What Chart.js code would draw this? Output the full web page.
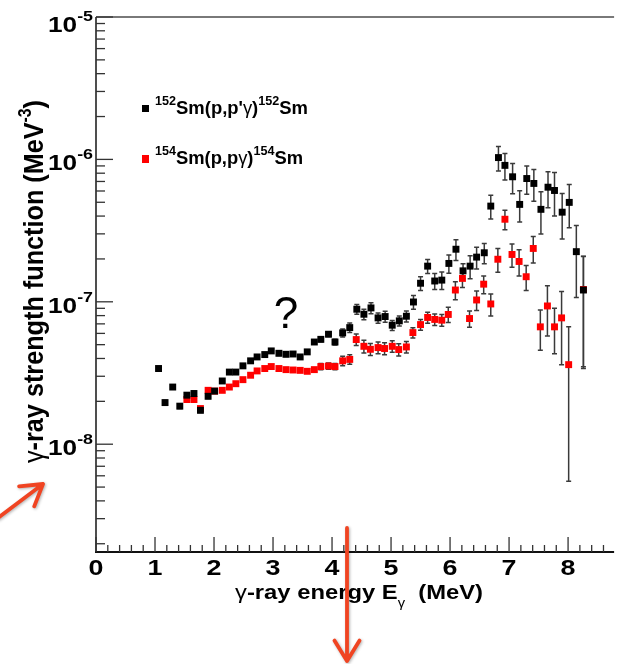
<!DOCTYPE html>
<html>
<head>
<meta charset="utf-8">
<script src="https://cdn.jsdelivr.net/npm/chart.js@4.4.1/dist/chart.umd.min.js"></script>
<style>
  html, body { margin: 0; padding: 0; background: #fff; }
  #wrap { width: 619px; height: 664px; }
</style>
</head>
<body>
<div id="wrap"><canvas id="gsf" width="619" height="664"></canvas></div>
<script>
// 152Sm(p,p'g)152Sm
const energy152 = [1.06, 1.17, 1.30, 1.42, 1.54, 1.66, 1.77, 1.90, 2.01, 2.14, 2.26, 2.37, 2.49, 2.62, 2.73, 2.86, 2.97, 3.10, 3.22, 3.34, 3.46, 3.58, 3.70, 3.81, 3.94, 4.05,
    4.18, 4.30, 4.42, 4.54, 4.66, 4.78, 4.90, 5.02, 5.14, 5.26, 5.38, 5.50, 5.62, 5.74, 5.86, 5.98, 6.10, 6.22, 6.34, 6.45,
    6.58, 6.69, 6.82, 6.93, 7.06, 7.18, 7.30, 7.42, 7.54, 7.66, 7.77, 7.90, 8.02, 8.14, 8.26];
const strength152 = [3.40e-8, 1.96e-8, 2.52e-8, 1.85e-8, 2.21e-8, 2.27e-8, 1.73e-8, 2.17e-8, 2.36e-8, 2.78e-8, 3.21e-8, 3.21e-8, 3.55e-8, 3.85e-8, 4.10e-8, 4.26e-8, 4.52e-8, 4.35e-8, 4.28e-8, 4.30e-8, 4.10e-8, 4.45e-8, 5.22e-8, 5.45e-8, 5.92e-8, 5.22e-8,
    6.05e-8, 6.59e-8, 8.87e-8, 8.18e-8, 9.06e-8, 7.71e-8, 7.88e-8, 6.85e-8, 7.35e-8, 7.92e-8, 9.97e-8, 1.35e-7, 1.78e-7, 1.40e-7, 1.42e-7, 1.86e-7, 2.34e-7, 1.65e-7, 1.78e-7, 2.06e-7,
    2.21e-7, 4.70e-7, 1.03e-6, 9.08e-7, 7.55e-7, 4.83e-7, 7.34e-7, 6.78e-7, 4.46e-7, 6.38e-7, 6.05e-7, 4.26e-7, 4.99e-7, 2.25e-7, 1.21e-7];
const error152 = [1.2e-9, 7e-10, 9e-10, 7e-10, 8e-10, 8e-10, 6e-10, 8e-10, 8e-10, 1.0e-9, 1.1e-9, 1.1e-9, 1.2e-9, 1.3e-9, 1.4e-9, 1.5e-9, 1.6e-9, 1.5e-9, 1.5e-9, 1.5e-9, 1.4e-9, 1.6e-9, 1.9e-9, 2.0e-9, 2.2e-9, 2.4e-9,
    4e-9, 5e-9, 7e-9, 7e-9, 8e-9, 6.5e-9, 7e-9, 5.5e-9, 6e-9, 7e-9, 1.1e-8, 1.5e-8, 2e-8, 1.8e-8, 2e-8, 2.7e-8, 3.9e-8, 2e-8, 3.3e-8, 3.6e-8,
    3.6e-8, 8.9e-8, 2.0e-7, 1.9e-7, 1.8e-7, 1.2e-7, 1.65e-7, 1.7e-7, 1.47e-7, 1.8e-7, 2.05e-7, 1.5e-7, 1.68e-7, 1.18e-7, 8.7e-8];

// 154Sm(p,pg)154Sm
const energy154 = [1.54, 1.66, 1.77, 1.90, 2.01, 2.14, 2.26, 2.37, 2.49, 2.62, 2.73, 2.86, 2.97, 3.10, 3.22, 3.34, 3.46, 3.58, 3.70, 3.81,
    3.94, 4.05, 4.18, 4.30, 4.41, 4.54, 4.65, 4.78, 4.89, 5.02, 5.13, 5.26, 5.37, 5.50, 5.62, 5.74, 5.86, 5.97, 6.09, 6.21,
    6.33, 6.45, 6.57, 6.69, 6.81, 6.93, 7.05, 7.17, 7.29, 7.41, 7.53, 7.65, 7.77, 7.89, 8.01, 8.26];
const strength154 = [2.06e-8, 2.06e-8, 1.78e-8, 2.39e-8, 2.36e-8, 2.39e-8, 2.52e-8, 2.66e-8, 2.84e-8, 3.05e-8, 3.27e-8, 3.40e-8, 3.51e-8, 3.40e-8, 3.34e-8, 3.32e-8, 3.30e-8, 3.25e-8, 3.34e-8, 3.51e-8,
    3.54e-8, 3.51e-8, 3.85e-8, 3.94e-8, 5.43e-8, 4.87e-8, 4.64e-8, 4.77e-8, 4.70e-8, 4.87e-8, 4.62e-8, 4.82e-8, 6.08e-8, 6.92e-8, 7.76e-8, 7.52e-8, 7.43e-8, 8.15e-8, 1.21e-7, 1.46e-7,
    7.63e-8, 1.03e-7, 1.33e-7, 9.66e-8, 1.99e-7, 3.80e-7, 2.15e-7, 1.92e-7, 1.50e-7, 2.37e-7, 6.67e-8, 9.35e-8, 6.67e-8, 7.71e-8, 3.62e-8, 1.22e-7];
const error154 = [6e-10, 6e-10, 5e-10, 7e-10, 7e-10, 7e-10, 8e-10, 8e-10, 9e-10, 9e-10, 1.0e-9, 1.0e-9, 1.1e-9, 1.0e-9, 1.0e-9, 1.0e-9, 1.0e-9, 1.0e-9, 1.0e-9, 1.8e-9,
    1.8e-9, 1.8e-9, 3e-9, 3e-9, 5e-9, 5e-9, 4.5e-9, 4.5e-9, 4.5e-9, 4.5e-9, 4.5e-9, 4.5e-9, 5e-9, 6e-9, 7e-9, 7e-9, 7e-9, 1e-8, 1.75e-8, 2e-8,
    1e-8, 1.6e-8, 1.9e-8, 1.7e-8, 3.8e-8, 6e-8, 4e-8, 4e-8, 3e-8, 5e-8, 2.1e-8, 3.6e-8, 2.35e-8, 4.1e-8, 3.07e-8, 8.7e-8];

const xTicks = [0, 1, 2, 3, 4, 5, 6, 7, 8];
const yDecades = [-5, -6, -7, -8];

const FONT = "'Liberation Sans', Arial, Helvetica, sans-serif";

function setFont(ctx, size, bold) {
    ctx.font = (bold ? 'bold ' : '') + size + 'px ' + FONT;
}

function partsWidth(ctx, parts) {
    let w = 0;
    parts.forEach((p) => {
        setFont(ctx, p.size, p.bold !== false);
        w += ctx.measureText(p.t).width;
    });
    return w;
}

function drawParts(ctx, parts) {
    let x = 0;
    parts.forEach((p) => {
        setFont(ctx, p.size, p.bold !== false);
        ctx.fillText(p.t, x, p.dy || 0);
        x += ctx.measureText(p.t).width;
    });
}

// draw text pieces squeezed/stretched to span x0..x1
function drawFit(ctx, parts, x0, x1, baseline, color) {
    const w = partsWidth(ctx, parts);
    ctx.save();
    ctx.translate(x0, baseline);
    ctx.scale((x1 - x0) / w, 1);
    ctx.fillStyle = color || '#000';
    ctx.textAlign = 'left';
    ctx.textBaseline = 'alphabetic';
    drawParts(ctx, parts);
    ctx.restore();
}

function arrow(ctx, x0, y0, x1, y1, head) {
    const a = Math.atan2(y1 - y0, x1 - x0);
    ctx.beginPath();
    ctx.moveTo(x0, y0);
    ctx.lineTo(x1, y1);
    ctx.moveTo(x1 - head * Math.cos(a - 0.55), y1 - head * Math.sin(a - 0.55));
    ctx.lineTo(x1, y1);
    ctx.lineTo(x1 - head * Math.cos(a + 0.55), y1 - head * Math.sin(a + 0.55));
    ctx.stroke();
}

const errorBars = {
    id: 'errorBars',
    beforeDatasetsDraw(chart) {
        const ctx = chart.ctx;
        const y = chart.scales.y;
        const errs = [error152, error154];
        ctx.save();
        ctx.strokeStyle = '#3a3a3a';
        ctx.lineWidth = 1.5;
        chart.data.datasets.forEach((ds, d) => {
            const meta = chart.getDatasetMeta(d);
            meta.data.forEach((pt, i) => {
                const v = ds.data[i].y;
                const e = errs[d][i];
                const top = y.getPixelForValue(v + e);
                const bot = v - e > 0 ? y.getPixelForValue(v - e) : y.bottom;
                ctx.beginPath();
                ctx.moveTo(pt.x, top);
                ctx.lineTo(pt.x, bot);
                ctx.moveTo(pt.x - 2.5, top);
                ctx.lineTo(pt.x + 2.5, top);
                ctx.moveTo(pt.x - 2.5, bot);
                ctx.lineTo(pt.x + 2.5, bot);
                ctx.stroke();
            });
        });
        ctx.restore();
    },
};

const frame = {
    id: 'frame',
    afterDraw(chart) {
        const ctx = chart.ctx;
        const xs = chart.scales.x;
        const ys = chart.scales.y;
        const a = chart.chartArea;
        ctx.save();

        // frame lines
        ctx.lineCap = 'butt';
        ctx.strokeStyle = '#4d4d4d';
        ctx.lineWidth = 1.6;
        ctx.beginPath();
        ctx.moveTo(a.left, a.top);
        ctx.lineTo(a.right, a.top);
        ctx.stroke();
        ctx.strokeStyle = '#222';
        ctx.beginPath();
        ctx.moveTo(a.left, a.top);
        ctx.lineTo(a.left, a.bottom);
        ctx.stroke();
        ctx.strokeStyle = '#111';
        ctx.lineWidth = 2;
        ctx.beginPath();
        ctx.moveTo(a.left - 1, a.bottom);
        ctx.lineTo(a.right, a.bottom);
        ctx.stroke();

        // x ticks, inside
        ctx.strokeStyle = '#333';
        ctx.lineWidth = 1.3;
        for (let k = 0; k <= Math.floor(xs.max * 5); k++) {
            const v = k / 5;
            const px = xs.getPixelForValue(v);
            const len = k % 5 === 0 ? 15 : 7;
            ctx.beginPath();
            ctx.moveTo(px, a.bottom);
            ctx.lineTo(px, a.bottom - len);
            ctx.stroke();
        }
        // y ticks, inside
        for (let e = -9; e <= -5; e++) {
            for (let m = 1; m <= 9; m++) {
                const v = m * Math.pow(10, e);
                if (v < ys.min || v > ys.max * 1.0001) continue;
                const py = ys.getPixelForValue(v);
                const len = m === 1 ? 17 : 9;
                ctx.beginPath();
                ctx.moveTo(a.left, py);
                ctx.lineTo(a.left + len, py);
                ctx.stroke();
            }
        }

        // x tick labels
        ctx.fillStyle = '#000';
        xTicks.forEach((t) => {
            const px = xs.getPixelForValue(t);
            ctx.save();
            ctx.translate(px, 575);
            ctx.scale(1.22, 1);
            setFont(ctx, 22, true);
            ctx.textAlign = 'center';
            ctx.fillText(String(t), 0, 0);
            ctx.restore();
        });

        // y tick labels 10^n
        yDecades.forEach((d) => {
            const py = ys.getPixelForValue(Math.pow(10, d));
            const base = Math.max(py + 11, 32);
            drawFit(ctx, [{ t: '10', size: 22 }, { t: String(d), size: 15, dy: -11 }], 48, 93, base);
        });

        // axis titles
        drawFit(ctx, [
            { t: 'γ', size: 21, bold: false },
            { t: '-ray energy E', size: 21 },
            { t: 'γ', size: 13, bold: false, dy: 8 },
            { t: '  (MeV)', size: 21 },
        ], 235, 483, 599);

        const yParts = [
            { t: 'γ', size: 24, bold: false },
            { t: '-ray strength function (MeV', size: 24 },
            { t: '-3', size: 15, dy: -10 },
            { t: ')', size: 24 },
        ];
        const yLen = partsWidth(ctx, yParts);
        ctx.save();
        ctx.translate(43, 463);
        ctx.rotate(-Math.PI / 2);
        ctx.scale(363 / yLen, 1.18);
        ctx.fillStyle = '#000';
        ctx.textAlign = 'left';
        drawParts(ctx, yParts);
        ctx.restore();

        // legend
        ctx.fillStyle = '#000';
        ctx.fillRect(142, 105, 7, 7);
        drawFit(ctx, [
            { t: '152', size: 13, dy: -9 },
            { t: "Sm(p,p'", size: 19 },
            { t: 'γ', size: 19, bold: false },
            { t: ')', size: 19 },
            { t: '152', size: 13, dy: -9 },
            { t: 'Sm', size: 19 },
        ], 155, 308, 114);
        ctx.fillStyle = '#ff0000';
        ctx.fillRect(142, 155, 7, 8);
        drawFit(ctx, [
            { t: '154', size: 13, dy: -9 },
            { t: 'Sm(p,p', size: 19 },
            { t: 'γ', size: 19, bold: false },
            { t: ')', size: 19 },
            { t: '154', size: 13, dy: -9 },
            { t: 'Sm', size: 19 },
        ], 155, 303, 164);

        // question mark
        ctx.fillStyle = '#000';
        setFont(ctx, 44, false);
        ctx.textAlign = 'center';
        ctx.fillText('?', 286, 328);

        // red annotation arrows
        ctx.strokeStyle = '#f04422';
        ctx.lineWidth = 3.8;
        ctx.lineCap = 'round';
        ctx.lineJoin = 'round';
        ctx.shadowColor = 'rgba(0,0,0,0.3)';
        ctx.shadowBlur = 3;
        ctx.shadowOffsetX = 1;
        ctx.shadowOffsetY = 1;
        arrow(ctx, -2, 518, 43, 484, 24);
        arrow(ctx, 347, 528, 347, 661, 24);
        ctx.restore();
    },
};

new Chart(document.getElementById('gsf'), {
    type: 'scatter',
    data: {
        datasets: [
            {
                label: "152Sm(p,p'γ)152Sm",
                data: energy152.map((x, i) => ({ x, y: strength152[i] })),
                backgroundColor: '#000000',
                borderWidth: 0,
                pointStyle: 'rect',
                pointRadius: 4.9,
                pointHoverRadius: 4.9,
            },
            {
                label: '154Sm(p,pγ)154Sm',
                data: energy154.map((x, i) => ({ x, y: strength154[i] })),
                backgroundColor: '#ff0000',
                borderWidth: 0,
                pointStyle: 'rect',
                pointRadius: 4.9,
                pointHoverRadius: 4.9,
            },
        ],
    },
    options: {
        responsive: false,
        devicePixelRatio: 1,
        animation: false,
        layout: { padding: { left: 96, top: 17, right: 0, bottom: 112 } },
        plugins: {
            legend: { display: false },
            tooltip: { enabled: false },
        },
        scales: {
            x: { type: 'linear', min: 0, max: 8.78, display: false },
            y: { type: 'logarithmic', min: 1.75e-9, max: 1e-5, display: false },
        },
    },
    plugins: [errorBars, frame],
});
</script>
</body>
</html>
